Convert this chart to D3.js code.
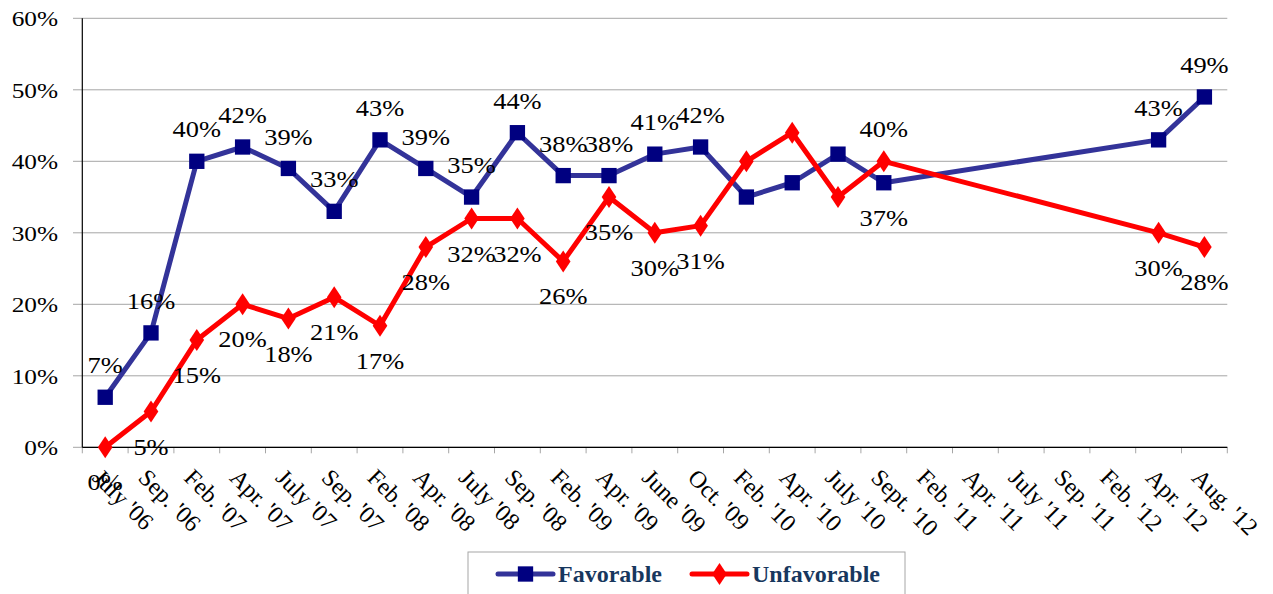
<!DOCTYPE html>
<html>
<head>
<meta charset="utf-8">
<script src="https://cdn.jsdelivr.net/npm/d3@7"></script>
<style>
  body { margin: 0; background: #fff; }
  svg { display: block; }
  text { font-family: "Liberation Serif", "Times New Roman", serif; }
</style>
</head>
<body>
<svg id="chart" width="1273" height="594"></svg>
<script>
// Favorable / unfavorable ratings over time, drawn in the old Excel line chart style.

const categories = [
  "July '06", "Sep. '06", "Feb. '07", "Apr. '07", "July '07", "Sep. '07",
  "Feb. '08", "Apr. '08", "July '08", "Sep. '08", "Feb. '09", "Apr. '09",
  "June '09", "Oct. '09", "Feb. '10", "Apr. '10", "July '10", "Sept. '10",
  "Feb. '11", "Apr. '11", "July '11", "Sep. '11", "Feb. '12", "Apr. '12", "Aug. '12"
];

// null = no survey at that date
const favorable = [7, 16, 40, 42, 39, 33, 43, 39, 35, 44, 38, 38, 41, 42, 35, 37, 41, 37,
  null, null, null, null, null, 43, 49];
const unfavorable = [0, 5, 15, 20, 18, 21, 17, 28, 32, 32, 26, 35, 30, 31, 40, 44, 35, 40,
  null, null, null, null, null, 30, 28];

// Where each data label sits: "above", "below" or "" for no label.
const favLabelSide = ["above", "above", "above", "above", "above", "above", "above", "above",
  "above", "above", "above", "above", "above", "above", "", "", "", "below",
  "", "", "", "", "", "above", "above"];
const unfavLabelSide = ["below", "below", "below", "below", "below", "below", "below", "below",
  "below", "below", "below", "below", "below", "below", "", "", "", "above",
  "", "", "", "", "", "below", "below"];

const yTicks = [0, 10, 20, 30, 40, 50, 60];

const FAV_LINE = "#333399";
const FAV_MARK = "#000080";
const UNFAV = "#ff0000";
const GRID = "#a6a6a6";
const LEGEND_TEXT = "#17375e";
const STRETCH = 1.15; // the original text is drawn a bit wide

const svg = d3.select("#chart");

const x = d3.scaleBand().domain(categories).range([82.3, 1227.3]);
const y = d3.scaleLinear().domain([0, 60]).range([447.3, 18.3]);
const cx = (c) => x(c) + x.bandwidth() / 2;

// Horizontal gridlines, running out to the left as tick marks.
svg.append("g")
  .selectAll("line")
  .data(yTicks)
  .join("line")
  .attr("x1", 73)
  .attr("x2", 1227.3)
  .attr("y1", (d) => y(d))
  .attr("y2", (d) => y(d))
  .attr("stroke", GRID)
  .attr("stroke-width", 1);

// Y tick labels.
svg.append("g")
  .selectAll("text")
  .data(yTicks)
  .join("text")
  .attr("transform", (d) => `translate(58,${y(d)}) scale(${STRETCH},1)`)
  .attr("dy", "0.35em")
  .attr("text-anchor", "end")
  .attr("font-size", 22)
  .text((d) => d + "%");

// X tick marks at the band edges.
svg.append("g")
  .selectAll("line")
  .data(categories.concat([null]))
  .join("line")
  .attr("x1", (d) => (d === null ? x.range()[1] : x(d)))
  .attr("x2", (d) => (d === null ? x.range()[1] : x(d)))
  .attr("y1", y(0))
  .attr("y2", y(0) + 6)
  .attr("stroke", GRID);

// Axis lines.
svg.append("line")
  .attr("x1", 82.3).attr("x2", 82.3)
  .attr("y1", y(60)).attr("y2", y(0))
  .attr("stroke", "#000").attr("stroke-width", 1.2);
svg.append("line")
  .attr("x1", 82.3).attr("x2", 1227.3)
  .attr("y1", y(0)).attr("y2", y(0))
  .attr("stroke", "#000").attr("stroke-width", 1.2);

// Rotated category labels.
svg.append("g")
  .selectAll("text")
  .data(categories)
  .join("text")
  .attr("transform", (d) => `translate(${cx(d) - 14},${479}) rotate(45)`)
  .attr("font-size", 24)
  .text((d) => d);

// Gaps are skipped, the line joins the neighbouring points.
function points(values) {
  return categories
    .map((c, i) => ({ c, v: values[i], i }))
    .filter((d) => d.v !== null);
}

const line = d3.line().x((d) => cx(d.c)).y((d) => y(d.v));

const favPts = points(favorable);
const unfavPts = points(unfavorable);

svg.append("path")
  .datum(favPts)
  .attr("d", line)
  .attr("fill", "none")
  .attr("stroke", FAV_LINE)
  .attr("stroke-width", 5)
  .attr("stroke-linejoin", "round");

svg.append("path")
  .datum(unfavPts)
  .attr("d", line)
  .attr("fill", "none")
  .attr("stroke", UNFAV)
  .attr("stroke-width", 5)
  .attr("stroke-linejoin", "round");

const square = d3.symbol().type(d3.symbolSquare).size(235);
const diamond = d3.symbol().type(d3.symbolDiamond).size(140);

svg.append("g")
  .selectAll("path")
  .data(favPts)
  .join("path")
  .attr("transform", (d) => `translate(${cx(d.c)},${y(d.v)})`)
  .attr("d", square)
  .attr("fill", FAV_MARK);

svg.append("g")
  .selectAll("path")
  .data(unfavPts)
  .join("path")
  .attr("transform", (d) => `translate(${cx(d.c)},${y(d.v)}) scale(1.15,1)`)
  .attr("d", diamond)
  .attr("fill", UNFAV);

// Data labels.
function labels(pts, sides) {
  svg.append("g")
    .selectAll("text")
    .data(pts.filter((d) => sides[d.i]))
    .join("text")
    .attr("transform", (d) => {
      const ly = y(d.v) + (sides[d.i] === "above" ? -32 : 35);
      return `translate(${cx(d.c)},${ly}) scale(${STRETCH},1)`;
    })
    .attr("dy", "0.35em")
    .attr("text-anchor", "middle")
    .attr("font-size", 23)
    .text((d) => d.v + "%");
}
labels(favPts, favLabelSide);
labels(unfavPts, unfavLabelSide);

// Legend box, cut off by the bottom edge as in the original.
const legend = svg.append("g");
legend.append("rect")
  .attr("x", 468).attr("y", 552)
  .attr("width", 437).attr("height", 60)
  .attr("fill", "#fff")
  .attr("stroke", GRID);

const legendItems = [
  { name: "Favorable", x0: 498, line: FAV_LINE, mark: FAV_MARK, sym: square, sx: 1 },
  { name: "Unfavorable", x0: 692, line: UNFAV, mark: UNFAV, sym: diamond, sx: 1.15 },
];
const ly = 574;
legendItems.forEach((it) => {
  legend.append("line")
    .attr("x1", it.x0).attr("x2", it.x0 + 55)
    .attr("y1", ly).attr("y2", ly)
    .attr("stroke", it.line).attr("stroke-width", 5)
    .attr("stroke-linecap", "round");
  legend.append("path")
    .attr("transform", `translate(${it.x0 + 27.5},${ly}) scale(${it.sx},1)`)
    .attr("d", it.sym)
    .attr("fill", it.mark);
  legend.append("text")
    .attr("x", it.x0 + 60)
    .attr("y", ly)
    .attr("dy", "0.35em")
    .attr("font-size", 24)
    .attr("font-weight", "bold")
    .attr("fill", LEGEND_TEXT)
    .text(it.name);
});
</script>
</body>
</html>
